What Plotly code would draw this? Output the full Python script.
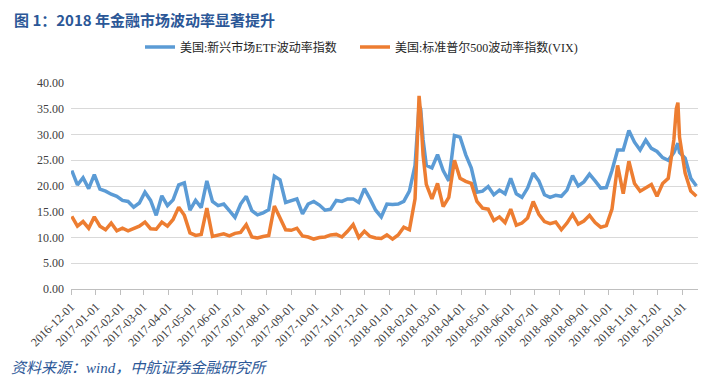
import plotly.graph_objects as go

# weekly observations (plus a few extra days around spikes)
dates = [
    "2016-12-02", "2016-12-09", "2016-12-16", "2016-12-23", "2016-12-30",
    "2017-01-06", "2017-01-13", "2017-01-20", "2017-01-27",
    "2017-02-03", "2017-02-10", "2017-02-17", "2017-02-24",
    "2017-03-03", "2017-03-10", "2017-03-17", "2017-03-24", "2017-03-31",
    "2017-04-07", "2017-04-14", "2017-04-21", "2017-04-28",
    "2017-05-05", "2017-05-12", "2017-05-19", "2017-05-26",
    "2017-06-02", "2017-06-09", "2017-06-16", "2017-06-23", "2017-06-30",
    "2017-07-07", "2017-07-14", "2017-07-21", "2017-07-28",
    "2017-08-04", "2017-08-11", "2017-08-18", "2017-08-25",
    "2017-09-01", "2017-09-08", "2017-09-15", "2017-09-22", "2017-09-29",
    "2017-10-06", "2017-10-13", "2017-10-20", "2017-10-27",
    "2017-11-03", "2017-11-10", "2017-11-17", "2017-11-24",
    "2017-12-01", "2017-12-08", "2017-12-15", "2017-12-22", "2017-12-29",
    "2018-01-05", "2018-01-12", "2018-01-19", "2018-01-26",
    "2018-02-02", "2018-02-05", "2018-02-07", "2018-02-09", "2018-02-12",
    "2018-02-16", "2018-02-23",
    "2018-03-02", "2018-03-09", "2018-03-16", "2018-03-23", "2018-03-30",
    "2018-04-06", "2018-04-13", "2018-04-20", "2018-04-27",
    "2018-05-04", "2018-05-11", "2018-05-18", "2018-05-25",
    "2018-06-01", "2018-06-08", "2018-06-15", "2018-06-22", "2018-06-29",
    "2018-07-06", "2018-07-13", "2018-07-20", "2018-07-27",
    "2018-08-03", "2018-08-10", "2018-08-17", "2018-08-24", "2018-08-31",
    "2018-09-07", "2018-09-14", "2018-09-21", "2018-09-28",
    "2018-10-05", "2018-10-12", "2018-10-19", "2018-10-26",
    "2018-11-02", "2018-11-09", "2018-11-16", "2018-11-23", "2018-11-30",
    "2018-12-07", "2018-12-14", "2018-12-21", "2018-12-24", "2018-12-26",
    "2018-12-28",
    "2019-01-04", "2019-01-11", "2019-01-18",
]

em_etf_vol = [
    23.0, 20.2, 21.6, 19.5, 22.2,
    19.4, 19.0, 18.4, 18.0,
    17.2, 17.0, 15.9, 16.7,
    18.8, 17.2, 14.3, 18.1, 16.2,
    17.3, 20.2, 20.6, 15.3,
    17.2, 15.8, 21.0, 17.0,
    16.2, 16.5, 15.2, 13.9, 16.5,
    18.0, 15.2, 14.4, 14.8,
    15.4, 21.9, 21.2, 16.8,
    17.2, 17.5, 14.6, 16.5, 17.0,
    16.3, 15.3, 15.5, 17.2,
    17.0, 17.5, 17.5, 16.8,
    19.5, 17.5, 15.3, 14.0, 16.5,
    16.4, 16.5, 17.0, 19.0,
    24.0, 30.0, 35.5, 35.0, 29.0,
    24.0, 23.5,
    26.1, 23.0, 21.0, 29.8, 29.5,
    26.1, 23.5, 18.8, 19.0,
    19.9, 18.3, 19.2, 18.5,
    21.5, 18.5, 17.8, 19.6, 22.5,
    21.0, 18.3, 17.8, 18.2,
    18.0, 19.2, 22.0, 20.0, 20.8,
    22.3, 21.0, 19.6, 19.7,
    23.0, 27.0, 27.0, 30.8,
    28.5, 27.0, 28.9, 27.3, 26.7,
    25.5, 25.0, 26.5, 27.5, 28.3,
    26.5,
    25.4, 21.5, 20.0,
]

vix = [
    14.1, 12.2, 13.1, 11.8, 14.0,
    12.2, 11.5, 12.8, 11.3,
    11.8, 11.3, 11.7, 12.2,
    13.0, 11.7, 11.6, 13.0, 12.2,
    13.5, 15.9, 14.3, 10.9,
    10.4, 10.6, 15.7, 10.2,
    10.4, 10.7, 10.3, 10.8, 11.0,
    12.5, 10.1, 9.9, 10.2,
    10.4, 16.1, 13.8, 11.5,
    11.4, 11.8, 10.3, 10.1, 9.7,
    10.0, 10.1, 10.5, 10.6,
    10.1, 11.2, 12.5, 10.0,
    11.2, 10.2, 9.9, 9.8, 10.5,
    9.7, 10.5, 12.0, 11.5,
    17.5, 32.0, 37.5, 34.0, 26.0,
    20.3, 17.5,
    20.5, 16.0, 17.8, 25.0, 21.5,
    20.9, 20.5, 17.0, 15.7,
    15.5, 13.3, 14.0, 12.9,
    15.5, 12.4, 12.8, 13.8, 17.0,
    14.5, 13.1, 12.7, 13.0,
    11.5, 12.8, 14.5, 12.6, 13.2,
    14.3, 12.9, 12.0, 12.3,
    15.5, 24.0, 18.5, 24.8,
    20.5, 19.0, 19.6, 20.3, 18.0,
    20.5, 21.5, 29.0, 35.0, 36.2,
    29.5,
    22.5, 19.0, 18.0,
]

month_ticks = [
    "2016-12-01", "2017-01-01", "2017-02-01", "2017-03-01", "2017-04-01",
    "2017-05-01", "2017-06-01", "2017-07-01", "2017-08-01", "2017-09-01",
    "2017-10-01", "2017-11-01", "2017-12-01", "2018-01-01", "2018-02-01",
    "2018-03-01", "2018-04-01", "2018-05-01", "2018-06-01", "2018-07-01",
    "2018-08-01", "2018-09-01", "2018-10-01", "2018-11-01", "2018-12-01",
    "2019-01-01",
]

series_names = ["美国:新兴市场ETF波动率指数", "美国:标准普尔500波动率指数(VIX)"]
title_text = "图 1：2018 年金融市场波动率显著提升"
source_text = "资料来源：wind，中航证券金融研究所"

FONT = "Liberation Serif, Noto Sans CJK SC, serif"
PLOT_L, PLOT_R, PLOT_T, PLOT_B = 63, 690, 75, 281


def px_x(px):
    return (px - PLOT_L) / (PLOT_R - PLOT_L)


def px_y(py):
    return (PLOT_B - py) / (PLOT_B - PLOT_T)


fig = go.Figure()
fig.add_trace(go.Scatter(x=dates, y=em_etf_vol, mode="lines", name=series_names[0],
                         line=dict(color="#5B9BD5", width=3.5), legend="legend"))
fig.add_trace(go.Scatter(x=dates, y=vix, mode="lines", name=series_names[1],
                         line=dict(color="#ED7D31", width=3.5), legend="legend2"))

legend_common = dict(orientation="h", xref="paper", yref="paper", xanchor="left",
                     y=px_y(39), yanchor="middle",
                     font=dict(family=FONT, size=12, color="#262626"),
                     bgcolor="rgba(0,0,0,0)", borderwidth=0)

fig.update_layout(
    width=709, height=384,
    margin=dict(l=PLOT_L, r=709 - PLOT_R, t=PLOT_T, b=384 - PLOT_B),
    paper_bgcolor="white", plot_bgcolor="white",
    font=dict(family=FONT, size=12, color="#404040"),
    legend=dict(x=px_x(132), **legend_common),
    legend2=dict(x=px_x(347), **legend_common),
    showlegend=True,
    annotations=[
        dict(text="<b>" + title_text + "</b>", xref="paper", yref="paper",
             x=px_x(4), xanchor="left", y=px_y(12), yanchor="middle", showarrow=False,
             font=dict(family="Noto Sans CJK SC", size=15, color="#2B5797")),
        dict(text=source_text, xref="paper", yref="paper",
             x=px_x(1), xanchor="left", y=px_y(360), yanchor="middle",
             showarrow=False,
             font=dict(family=FONT, size=15, color="#2B5797", style="italic")),
    ],
)

fig.update_xaxes(type="date", range=["2016-12-01", "2019-01-20"],
                 tickvals=month_ticks, ticktext=month_ticks, tickangle=-45,
                 ticks="outside", ticklen=5, tickcolor="#BFBFBF",
                 showline=True, linecolor="#BFBFBF", linewidth=1,
                 showgrid=False, zeroline=False,
                 tickfont=dict(family=FONT, size=12, color="#404040"))
fig.update_yaxes(range=[0, 40], dtick=5, tick0=0, tickformat=".2f",
                 showgrid=True, gridcolor="#D9D9D9", gridwidth=1,
                 showline=False, zeroline=False, ticks="",
                 ticklabelstandoff=6,
                 tickfont=dict(family=FONT, size=12, color="#404040"))

fig.write_html("out.html")
